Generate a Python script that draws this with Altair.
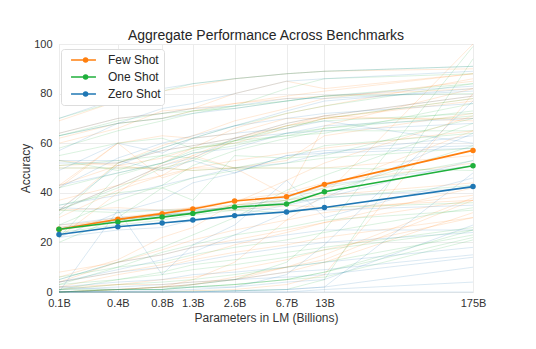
import altair as alt
import pandas as pd

params = [0.125, 0.35, 0.76, 1.3, 2.7, 6.7, 13, 175]
tick_labels = ["0.1B", "0.4B", "0.8B", "1.3B", "2.6B", "6.7B", "13B", "175B"]
series_names = ["Few Shot", "One Shot", "Zero Shot"]
marker_keys = ["few", "one", "zero"]
series_colors = ["#ff7f0e", "#1fb03c", "#1f77b4"]

few_shot = [25.3, 29.3, 31.6, 33.5, 36.7, 38.4, 43.4, 57.1]
one_shot = [25.3, 28.2, 30.2, 31.7, 34.3, 35.5, 40.4, 50.9]
zero_shot = [23.2, 26.3, 27.8, 29.0, 30.8, 32.3, 34.1, 42.5]

# individual benchmarks (zero, one, few) read/estimated from the faint background lines
bench_zero = [
    [64, 70, 72, 74, 75, 78, 78, 81], [42, 54, 60, 63, 67, 70, 72, 76],
    [33, 43, 51, 54, 62, 68, 71, 79], [63, 68, 70, 72, 74, 77, 79, 83],
    [57, 68, 74, 76, 80, 85, 86, 89], [52, 52, 57, 59, 62, 64, 67, 70],
    [43, 48, 52, 56, 58, 64, 65, 68], [26, 29, 31, 32, 34, 38, 43, 51],
    [35, 39, 43, 46, 50, 52, 56, 58], [4, 9, 13, 16, 23, 32, 38, 64],
    [1, 2, 3, 4, 5, 8, 9, 15], [2, 1, 2, 3, 5, 6, 7, 14],
    [33, 51, 58, 62, 67, 73, 77, 82], [22, 32, 37, 44, 48, 55, 57, 59],
    [0, 0.3, 0.5, 1, 2, 7, 19, 77], [0, 0, 0, 0, 0.5, 1, 2, 48],
    [0, 0, 0, 0, 0.5, 1, 2, 10], [5, 12, 15, 18, 20, 23, 25, 25],
    [49, 60, 56, 62, 64, 66, 69, 60], [53, 53, 49, 53, 48, 55, 56, 63],
    [0, 33, 7, 19, 27, 45, 30, 46], [70, 78, 82, 84, 86, 88, 89, 91],
    [4, 8, 10, 12, 15, 18, 20, 24], [27, 30, 31, 33, 34, 36, 38, 42],
    [0, 1, 1, 2, 2, 4, 5, 27], [34, 33, 33, 33, 34, 33, 33, 35],
    [0, 0, 0, 0, 0, 0, 1, 4], [0, 0, 0, 0, 0, 0, 0, 0],
    [22, 25, 26, 29, 31, 35, 38, 53], [2, 4, 5, 7, 8, 10, 12, 18],
]
bench_one = [
    [63, 69, 72, 73, 75, 77, 79, 80], [22, 47, 52, 57, 61, 67, 69, 72],
    [33, 42, 50, 53, 61, 66, 70, 78], [63, 68, 70, 73, 74, 77, 79, 84],
    [58, 65, 69, 72, 75, 82, 86, 88], [51, 53, 55, 58, 60, 63, 66, 73],
    [42, 48, 52, 56, 59, 64, 66, 71], [25, 29, 31, 32, 35, 37, 42, 53],
    [35, 40, 42, 46, 49, 52, 54, 58], [5, 12, 18, 23, 30, 41, 47, 68],
    [1, 3, 4, 5, 7, 10, 12, 23], [3, 5, 7, 9, 11, 14, 17, 25],
    [31, 52, 58, 62, 67, 72, 75, 84], [27, 37, 43, 51, 57, 62, 65, 65],
    [0, 1, 1, 3, 5, 12, 25, 99], [0, 0, 0, 0.3, 0.5, 1, 5, 94],
    [0, 1, 1, 2, 3, 5, 8, 22], [3, 10, 16, 19, 23, 26, 29, 33],
    [55, 60, 62, 58, 61, 63, 64, 76], [53, 49, 55, 54, 50, 54, 55, 70],
    [20, 30, 42, 37, 55, 54, 59, 64], [70, 77, 81, 84, 86, 88, 89, 91],
    [6, 10, 12, 15, 18, 21, 24, 34], [25, 29, 31, 32, 34, 36, 38, 43],
    [1, 1, 2, 2, 3, 5, 8, 25], [33, 32, 33, 33, 33, 32, 34, 36],
    [0, 1, 1, 2, 3, 5, 6, 21], [50, 50, 50, 49, 50, 50, 50, 49],
    [24, 27, 29, 31, 33, 37, 40, 59], [1, 5, 8, 11, 13, 16, 18, 26],
]
bench_few = [
    [64, 70, 72, 74, 76, 78, 79, 82], [22, 40, 52, 58, 66, 72, 75, 86],
    [33, 43, 51, 55, 62, 68, 71, 79], [62, 68, 70, 73, 76, 79, 81, 88],
    [60, 66, 73, 74, 80, 85, 82, 88], [51, 52, 57, 59, 62, 67, 70, 78],
    [43, 51, 54, 58, 60, 66, 70, 70], [27, 29, 32, 34, 37, 40, 44, 52],
    [37, 43, 47, 50, 53, 56, 58, 65], [6, 13, 22, 26, 36, 45, 52, 71],
    [1, 3, 5, 6, 9, 13, 17, 30], [4, 8, 11, 14, 19, 24, 28, 42],
    [33, 52, 59, 63, 69, 74, 78, 85], [30, 41, 47, 54, 61, 67, 71, 69],
    [0, 1, 2, 5, 12, 29, 39, 100], [0, 0, 0, 0.5, 1, 3, 7, 80],
    [0, 1, 2, 3, 5, 10, 15, 38], [4, 12, 17, 21, 25, 29, 32, 39],
    [43, 60, 63, 62, 64, 70, 70, 77], [53, 51, 49, 55, 50, 53, 63, 72],
    [42, 60, 46, 50, 50, 39, 67, 82], [69, 77, 81, 83, 86, 88, 89, 90],
    [8, 12, 15, 18, 21, 25, 28, 37], [26, 30, 32, 34, 35, 37, 39, 44],
    [2, 3, 3, 4, 5, 8, 12, 32], [33, 34, 33, 34, 33, 35, 34, 37],
    [0, 1, 2, 3, 6, 10, 13, 37], [50, 50, 50, 49, 50, 50, 50, 55],
    [25, 28, 30, 32, 35, 39, 42, 65], [2, 7, 10, 13, 16, 19, 22, 30],
]

main_rows = []
for name, key, vals in zip(series_names, marker_keys, [few_shot, one_shot, zero_shot]):
    for p, v in zip(params, vals):
        main_rows.append({"params": p, "acc": v, "series": name, "marker": key})
main_df = pd.DataFrame(main_rows)

bg_rows = []
for name, bench in zip(series_names, [bench_few, bench_one, bench_zero]):
    for i, vals in enumerate(bench):
        for p, v in zip(params, vals):
            bg_rows.append({"params": p, "acc": v, "series": name, "line": f"{name}-{i}"})
bg_df = pd.DataFrame(bg_rows)

label_expr = " : ".join(
    f"datum.value == {p} ? '{lab}'" for p, lab in zip(params, tick_labels)
) + " : ''"

font = "Liberation Sans"
x_enc = alt.X(
    "params:Q",
    scale=alt.Scale(type="log", domain=[params[0], params[-1]], nice=False),
    axis=alt.Axis(
        title="Parameters in LM (Billions)", values=params, labelExpr=label_expr,
        grid=True, gridColor="#ececec", domain=False, ticks=False,
        labelPadding=5, labelFontSize=11, labelColor="#333333",
        titleFontSize=12, titleFontWeight="normal", titleColor="#333333",
        titlePadding=4, labelFlush=False, labelOverlap=False,
    ),
)
y_enc = alt.Y(
    "acc:Q",
    scale=alt.Scale(domain=[0, 100], nice=False),
    axis=alt.Axis(
        title="Accuracy", values=[0, 20, 40, 60, 80, 100],
        grid=True, gridColor="#ececec", domain=False, ticks=False,
        labelPadding=7, labelFontSize=11, labelColor="#333333",
        titleFontSize=12, titleFontWeight="normal", titleColor="#333333",
        titlePadding=1,
    ),
)
color_scale = alt.Scale(domain=series_names, range=series_colors)
marker_scale = alt.Scale(domain=marker_keys, range=series_colors)

line_legend = alt.Legend(
    title=None, orient="none", legendX=2, legendY=5, zindex=1,
    labelFontSize=12, labelColor="#262626", labelFont=font,
    symbolType="stroke", symbolSize=620, symbolStrokeWidth=2, symbolOpacity=0.75,
    symbolOffset=6, clipHeight=16, rowPadding=1,
    strokeColor="#dddddd", fillColor="white", cornerRadius=3,
    padding=3, labelOffset=11,
)
dot_legend = alt.Legend(
    title=None, orient="none", legendX=17.6, legendY=5, zindex=2,
    labelFontSize=12, labelExpr="''", labelFont=font,
    symbolType="circle", symbolSize=30, symbolStrokeWidth=0, symbolOpacity=1,
    clipHeight=16, rowPadding=1,
    padding=3, labelOffset=0,
)

bg = alt.Chart(bg_df).mark_line(strokeWidth=1, opacity=0.16).encode(
    x=x_enc, y=y_enc,
    color=alt.Color("series:N", scale=color_scale, legend=line_legend),
    detail="line:N",
)

main_line = alt.Chart(main_df).mark_line(strokeWidth=1.6).encode(
    x=x_enc, y=y_enc,
    color=alt.Color("series:N", scale=color_scale, legend=line_legend),
    order=alt.Order("params:Q"),
)

main_pts = alt.Chart(main_df).mark_circle(size=30, opacity=1).encode(
    x=x_enc, y=y_enc,
    fill=alt.Fill("marker:N", scale=marker_scale, legend=dot_legend),
)

chart = alt.layer(bg, main_line, main_pts).properties(
    width=414, height=248,
    title=alt.Title("Aggregate Performance Across Benchmarks", fontSize=14,
                    fontWeight="normal", color="#262626", font=font, offset=-5),
    autosize=alt.AutoSizeParams(type="none"),
    padding={"left": 59, "top": 44, "right": 63, "bottom": 57},
).configure(font=font).configure_view(stroke="#dddddd", strokeWidth=1)

chart.save("out.html", embed_options={"renderer": "svg", "actions": False})
